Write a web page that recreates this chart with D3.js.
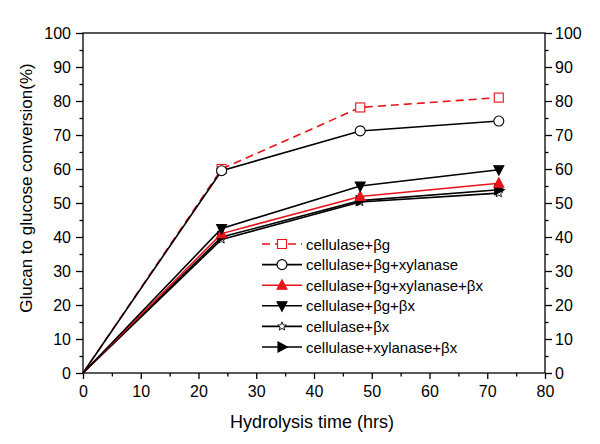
<!DOCTYPE html>
<html><head><meta charset="utf-8">
<script src="https://cdn.jsdelivr.net/npm/d3@7"></script>
<style>body{margin:0;background:#fff}svg{display:block;font-family:"Liberation Sans",Arial,sans-serif}</style>
</head><body><svg id="c" width="600" height="444"></svg>
<script>
const hours = [0, 24, 48, 72];
const seriesNames = ["cellulase+βg","cellulase+βg+xylanase","cellulase+βg+xylanase+βx","cellulase+βg+βx","cellulase+βx","cellulase+xylanase+βx"];
const sBg = [0, 60.0, 78.1, 81.0];
const sBgXyl = [0, 59.5, 71.2, 74.1];
const sBgXylBx = [0, 41.0, 51.9, 55.8];
const sBgBx = [0, 42.5, 55.0, 59.8];
const sBx = [0, 39.3, 50.3, 52.9];
const sXylBx = [0, 40.0, 50.7, 53.9];
const xTicks = [0,10,20,30,40,50,60,70,80];
const yTicks = [0,10,20,30,40,50,60,70,80,90,100];

const styles = [
  {color:"#e8141a", dash:"8,5", marker:"square", fill:"#fff"},
  {color:"#000", dash:null, marker:"circle", fill:"#fff"},
  {color:"#e8141a", dash:null, marker:"triUp", fill:"#e8141a"},
  {color:"#000", dash:null, marker:"triDown", fill:"#000"},
  {color:"#000", dash:null, marker:"star", fill:"#fff"},
  {color:"#000", dash:null, marker:"triRight", fill:"#000"}
];
const seriesVals = [sBg, sBgXyl, sBgXylBx, sBgBx, sBx, sXylBx];

const svg = d3.select("#c");
const L=83, R=545, T=33, B=373;
const x = d3.scaleLinear().domain([0,80]).range([L,R]);
const y = d3.scaleLinear().domain([0,100]).range([B,T]);

svg.append("rect").attr("x",L).attr("y",T).attr("width",R-L).attr("height",B-T)
  .attr("fill","none").attr("stroke","#000").attr("stroke-width",1.3);

const minorX = d3.range(5,80,10), minorY = d3.range(5,100,10);
function tickStyle(g){ g.select(".domain").remove(); g.selectAll("line").attr("stroke","#000").attr("stroke-width",1.3);
  g.selectAll("text").attr("font-size","16px").attr("fill","#000").attr("font-family","Liberation Sans, Arial, sans-serif"); }

const gx = svg.append("g").attr("transform",`translate(0,${B})`)
  .call(d3.axisBottom(x).tickValues(xTicks).tickSize(6).tickPadding(7).tickFormat(d3.format("d")));
tickStyle(gx);
svg.append("g").attr("transform",`translate(0,${B})`)
  .call(d3.axisBottom(x).tickValues(minorX).tickSize(3.5).tickFormat("")).call(tickStyle);

const gyl = svg.append("g").attr("transform",`translate(${L},0)`)
  .call(d3.axisLeft(y).tickValues(yTicks).tickSize(7).tickPadding(5).tickFormat(d3.format("d")));
tickStyle(gyl);
svg.append("g").attr("transform",`translate(${L},0)`)
  .call(d3.axisLeft(y).tickValues(minorY).tickSize(3.5).tickFormat("")).call(tickStyle);

const gyr = svg.append("g").attr("transform",`translate(${R},0)`)
  .call(d3.axisRight(y).tickValues(yTicks).tickSize(7).tickPadding(3).tickFormat(d3.format("d")));
tickStyle(gyr);
svg.append("g").attr("transform",`translate(${R},0)`)
  .call(d3.axisRight(y).tickValues(minorY).tickSize(3.5).tickFormat("")).call(tickStyle);

svg.append("text").attr("x",312).attr("y",428).attr("text-anchor","middle")
  .attr("font-size","18px").text("Hydrolysis time (hrs)");
svg.append("text").attr("transform",`translate(32,188) rotate(-90)`).attr("text-anchor","middle")
  .attr("font-size","17px").text("Glucan to glucose conversion(%)");

function drawMarker(g, type, cx, cy, st){
  const s = 5;
  let el;
  if(type==="square") el = g.append("rect").attr("x",cx-4.5).attr("y",cy-4.5).attr("width",9).attr("height",9);
  else if(type==="circle") el = g.append("circle").attr("cx",cx).attr("cy",cy).attr("r",5);
  else if(type==="triUp") el = g.append("path").attr("d",`M${cx},${cy-s-0.5}L${cx+s},${cy+s-1}L${cx-s},${cy+s-1}Z`);
  else if(type==="triDown") el = g.append("path").attr("d",`M${cx},${cy+s+0.5}L${cx+s},${cy-s+1}L${cx-s},${cy-s+1}Z`);
  else if(type==="triRight") el = g.append("path").attr("d",`M${cx+s+0.5},${cy}L${cx-s+1},${cy-s}L${cx-s+1},${cy+s}Z`);
  else if(type==="star"){
    const pts=[]; for(let i=0;i<10;i++){const r=i%2?2:4.5;const a=-Math.PI/2+i*Math.PI/5;pts.push([cx+r*Math.cos(a),cy+r*Math.sin(a)]);}
    el = g.append("path").attr("d","M"+pts.map(p=>p.join(",")).join("L")+"Z");
  }
  el.attr("fill",st.fill).attr("stroke",st.color).attr("stroke-width",type==="star"?0.9:1.1);
}

const line = d3.line().x((d,i)=>x(hours[i])).y(d=>y(d));
const order = [4,5,2,3,0,1];
order.forEach(k=>{
  const st = styles[k];
  svg.append("path").attr("d",line(seriesVals[k])).attr("fill","none")
    .attr("stroke",st.color).attr("stroke-width",1.6).attr("stroke-dasharray",st.dash);
});
order.forEach(k=>{
  const st = styles[k]; const g = svg.append("g");
  seriesVals[k].forEach((v,i)=>{ if(i>0) drawMarker(g, st.marker, x(hours[i]), y(v), st); });
});

const lg = svg.append("g");
seriesNames.forEach((name,i)=>{
  const st = styles[i]; const yy = 244 + i*20.6;
  lg.append("line").attr("x1",262).attr("x2",302).attr("y1",yy).attr("y2",yy)
    .attr("stroke",st.color).attr("stroke-width",1.6).attr("stroke-dasharray",st.dash);
  drawMarker(lg, st.marker, 282, yy, st);
  lg.append("text").attr("x",306).attr("y",yy+5.5).attr("font-size","15px").text(name);
});
</script></body></html>
